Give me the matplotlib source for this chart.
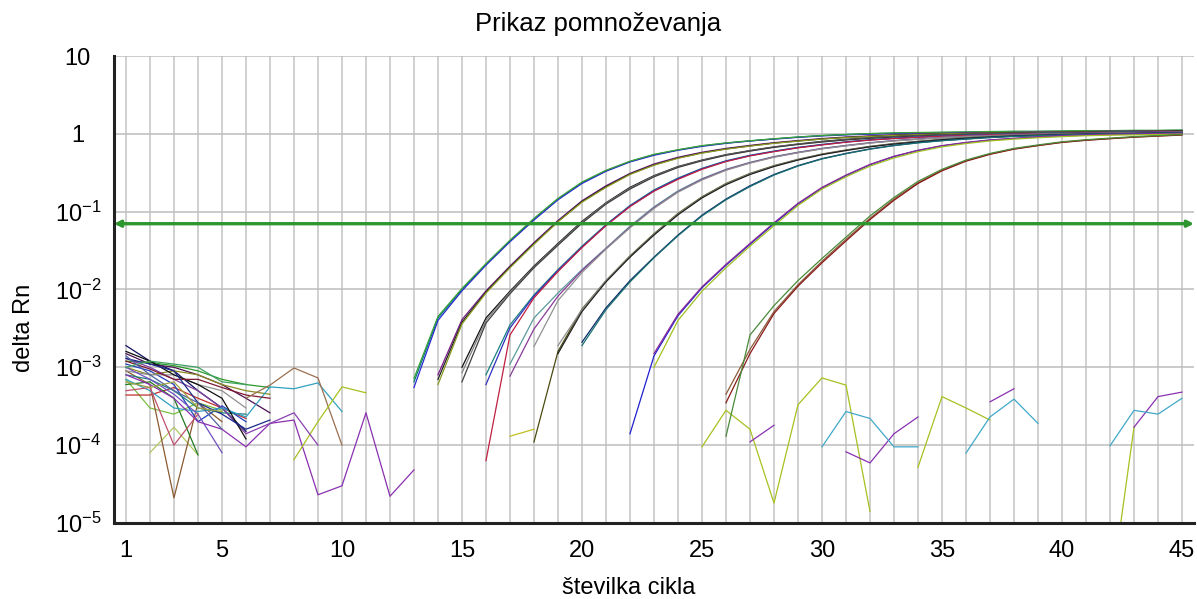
import matplotlib
matplotlib.use("Agg")
import matplotlib.pyplot as plt
import numpy as np

plt.rcParams['font.family'] = ['Liberation Sans', 'DejaVu Sans']
plt.rcParams['mathtext.fontset'] = 'custom'
plt.rcParams['mathtext.rm'] = 'Liberation Sans'
plt.rcParams['mathtext.it'] = 'Liberation Sans:italic'
plt.rcParams['mathtext.bf'] = 'Liberation Sans:bold'

# ---- data ----
title = "Prikaz pomnoževanja"
x_label = "številka cikla"
y_label = "delta Rn"
threshold = 0.07
x_ticks = [1, 5, 10, 15, 20, 25, 30, 35, 40, 45]
y_ticks = [1e-5, 1e-4, 1e-3, 1e-2, 1e-1, 1, 10]
y_tick_labels = [r'$\mathregular{10^{-5}}$', r'$\mathregular{10^{-4}}$', r'$\mathregular{10^{-3}}$',
                 r'$\mathregular{10^{-2}}$', r'$\mathregular{10^{-1}}$', '1', '10']

# amplification curves: first cycle shown, then delta Rn per cycle up to 45
amp_starts = [13, 13, 13, 14, 14, 14, 15, 15, 15, 16, 16, 16, 17, 17, 18,
              18, 19, 19, 20, 20, 22, 23, 23, 26, 26, 26]
amp_values = [
    [6.5e-4, 4.3e-3, 1.0e-2, 2.1e-2, 4.2e-2, 0.080, 0.145, 0.235, 0.335, 0.44, 0.54, 0.62, 0.70, 0.76, 0.81,
     0.86, 0.91, 0.95, 0.98, 1.00, 1.02, 1.03, 1.04, 1.05, 1.06, 1.07, 1.07, 1.08, 1.09, 1.09, 1.10, 1.10, 1.11],
    [5.5e-4, 4.0e-3, 9.6e-3, 2.05e-2, 4.1e-2, 0.078, 0.142, 0.23, 0.33, 0.435, 0.53, 0.615, 0.69, 0.755, 0.81,
     0.855, 0.90, 0.94, 0.97, 0.99, 1.01, 1.02, 1.03, 1.04, 1.05, 1.06, 1.07, 1.07, 1.08, 1.08, 1.09, 1.09, 1.10],
    [7.2e-4, 4.5e-3, 1.03e-2, 2.15e-2, 4.3e-2, 0.082, 0.148, 0.24, 0.34, 0.445, 0.545, 0.625, 0.705, 0.765,
     0.815, 0.865, 0.91, 0.95, 0.98, 1.01, 1.03, 1.04, 1.05, 1.06, 1.07, 1.08, 1.08, 1.09, 1.10, 1.10, 1.11,
     1.11, 1.12],
    [8.0e-4, 4.1e-3, 9.6e-3, 2.0e-2, 4.0e-2, 0.077, 0.138, 0.215, 0.31, 0.41, 0.50, 0.58, 0.65, 0.71, 0.77,
     0.82, 0.87, 0.91, 0.94, 0.97, 0.99, 1.01, 1.02, 1.03, 1.04, 1.05, 1.06, 1.07, 1.08, 1.08, 1.09, 1.10],
    [7.0e-4, 3.8e-3, 9.3e-3, 1.95e-2, 3.9e-2, 0.075, 0.135, 0.21, 0.305, 0.40, 0.49, 0.57, 0.64, 0.70, 0.76,
     0.81, 0.86, 0.90, 0.93, 0.96, 0.98, 1.00, 1.01, 1.02, 1.03, 1.04, 1.05, 1.06, 1.07, 1.07, 1.08, 1.09],
    [6.0e-4, 3.6e-3, 9.0e-3, 1.9e-2, 3.8e-2, 0.074, 0.132, 0.205, 0.30, 0.395, 0.485, 0.565, 0.635, 0.695,
     0.755, 0.805, 0.855, 0.895, 0.925, 0.955, 0.975, 0.995, 1.01, 1.02, 1.03, 1.04, 1.05, 1.06, 1.06, 1.07,
     1.08, 1.08],
    [1.0e-3, 4.3e-3, 9.5e-3, 2.0e-2, 3.9e-2, 0.075, 0.13, 0.205, 0.29, 0.38, 0.46, 0.54, 0.61, 0.68, 0.74,
     0.80, 0.85, 0.89, 0.92, 0.95, 0.97, 0.99, 1.01, 1.02, 1.03, 1.04, 1.05, 1.06, 1.07, 1.07, 1.08],
    [8.5e-4, 4.0e-3, 9.2e-3, 1.95e-2, 3.8e-2, 0.073, 0.128, 0.20, 0.285, 0.375, 0.455, 0.535, 0.605, 0.675,
     0.735, 0.79, 0.84, 0.88, 0.915, 0.945, 0.965, 0.985, 1.0, 1.01, 1.02, 1.03, 1.04, 1.05, 1.06, 1.06, 1.07],
    [6.5e-4, 3.7e-3, 8.8e-3, 1.9e-2, 3.7e-2, 0.071, 0.125, 0.195, 0.28, 0.37, 0.45, 0.53, 0.60, 0.67, 0.73,
     0.785, 0.835, 0.875, 0.91, 0.94, 0.96, 0.98, 0.995, 1.005, 1.015, 1.025, 1.035, 1.045, 1.05, 1.06, 1.065],
    [8.0e-4, 3.5e-3, 8.5e-3, 1.8e-2, 3.6e-2, 0.068, 0.12, 0.19, 0.27, 0.36, 0.45, 0.53, 0.60, 0.67, 0.73,
     0.79, 0.84, 0.88, 0.91, 0.94, 0.96, 0.98, 1.00, 1.01, 1.02, 1.03, 1.04, 1.05, 1.06, 1.07],
    [6.0e-4, 3.2e-3, 8.2e-3, 1.75e-2, 3.5e-2, 0.067, 0.118, 0.186, 0.265, 0.355, 0.445, 0.525, 0.595, 0.665,
     0.725, 0.785, 0.835, 0.875, 0.905, 0.935, 0.955, 0.975, 0.995, 1.005, 1.015, 1.025, 1.035, 1.045, 1.055,
     1.065],
    [6.3e-5, 2.6e-3, 7.8e-3, 1.7e-2, 3.45e-2, 0.066, 0.116, 0.183, 0.26, 0.35, 0.44, 0.52, 0.59, 0.66, 0.72,
     0.78, 0.83, 0.87, 0.90, 0.93, 0.95, 0.97, 0.99, 1.00, 1.01, 1.02, 1.03, 1.04, 1.05, 1.06],
    [1.1e-3, 4.3e-3, 9.0e-3, 1.8e-2, 3.4e-2, 0.065, 0.115, 0.185, 0.265, 0.35, 0.43, 0.51, 0.58, 0.65, 0.71,
     0.77, 0.82, 0.86, 0.90, 0.93, 0.95, 0.97, 0.99, 1.00, 1.01, 1.02, 1.03, 1.04, 1.05],
    [7.7e-4, 3.1e-3, 8.2e-3, 1.75e-2, 3.35e-2, 0.063, 0.112, 0.18, 0.26, 0.345, 0.425, 0.505, 0.575, 0.645,
     0.705, 0.765, 0.815, 0.855, 0.895, 0.925, 0.945, 0.965, 0.985, 0.995, 1.005, 1.015, 1.025, 1.035, 1.045],
    [1.85e-3, 7.2e-3, 1.65e-2, 3.3e-2, 0.062, 0.11, 0.178, 0.255, 0.34, 0.42, 0.50, 0.57, 0.64, 0.70, 0.76,
     0.81, 0.85, 0.89, 0.92, 0.94, 0.96, 0.98, 0.99, 1.00, 1.01, 1.02, 1.03, 1.04],
    [1.1e-4, 1.6e-3, 5.6e-3, 1.3e-2, 2.7e-2, 0.052, 0.095, 0.155, 0.23, 0.31, 0.39, 0.47, 0.55, 0.62, 0.69,
     0.75, 0.80, 0.85, 0.89, 0.92, 0.95, 0.97, 0.99, 1.00, 1.01, 1.02, 1.03, 1.04],
    [1.9e-3, 5.5e-3, 1.3e-2, 2.65e-2, 0.051, 0.093, 0.152, 0.226, 0.305, 0.385, 0.465, 0.545, 0.615, 0.685,
     0.745, 0.795, 0.845, 0.885, 0.915, 0.945, 0.965, 0.985, 0.995, 1.005, 1.015, 1.025, 1.035],
    [1.5e-3, 5.2e-3, 1.25e-2, 2.6e-2, 0.05, 0.091, 0.15, 0.222, 0.30, 0.38, 0.46, 0.54, 0.61, 0.68, 0.74,
     0.79, 0.84, 0.88, 0.91, 0.94, 0.96, 0.98, 0.99, 1.00, 1.01, 1.02, 1.03],
    [2.1e-3, 5.8e-3, 1.3e-2, 2.6e-2, 0.05, 0.09, 0.145, 0.215, 0.30, 0.39, 0.48, 0.56, 0.64, 0.71, 0.77,
     0.82, 0.86, 0.90, 0.93, 0.95, 0.97, 0.99, 1.00, 1.01, 1.02, 1.03],
    [1.9e-3, 5.5e-3, 1.25e-2, 2.55e-2, 0.049, 0.088, 0.142, 0.21, 0.295, 0.385, 0.475, 0.555, 0.635, 0.705,
     0.765, 0.815, 0.855, 0.895, 0.925, 0.945, 0.965, 0.985, 0.995, 1.005, 1.015, 1.025],
    [1.4e-4, 1.4e-3, 4.6e-3, 1.05e-2, 2.05e-2, 3.8e-2, 0.07, 0.125, 0.20, 0.29, 0.40, 0.51, 0.61, 0.70, 0.77,
     0.83, 0.87, 0.91, 0.94, 0.96, 0.98, 0.99, 1.00, 1.01],
    [1.5e-3, 4.8e-3, 1.08e-2, 2.1e-2, 3.9e-2, 0.072, 0.128, 0.205, 0.295, 0.405, 0.515, 0.615, 0.705, 0.775,
     0.835, 0.875, 0.915, 0.945, 0.965, 0.985, 0.995, 1.005, 1.015],
    [1.0e-3, 4.0e-3, 9.5e-3, 1.9e-2, 3.6e-2, 0.066, 0.12, 0.195, 0.28, 0.385, 0.49, 0.59, 0.68, 0.75, 0.81,
     0.855, 0.89, 0.92, 0.945, 0.96, 0.97, 0.98, 0.99],
    [4.5e-4, 1.7e-3, 5.2e-3, 1.15e-2, 2.3e-2, 4.4e-2, 0.082, 0.145, 0.235, 0.34, 0.45, 0.55, 0.64, 0.71, 0.78,
     0.83, 0.87, 0.91, 0.94, 0.97],
    [3.5e-4, 1.5e-3, 4.9e-3, 1.1e-2, 2.2e-2, 4.2e-2, 0.079, 0.14, 0.23, 0.335, 0.445, 0.545, 0.635, 0.705,
     0.775, 0.825, 0.865, 0.905, 0.935, 0.965],
    [1.3e-4, 2.6e-3, 6.2e-3, 1.3e-2, 2.5e-2, 4.7e-2, 0.088, 0.152, 0.245, 0.35, 0.46, 0.56, 0.65, 0.72, 0.79,
     0.84, 0.88, 0.92, 0.95, 0.98],
]
amp_colors = ['#007b7b', '#2a2ad0', '#3aa03a', '#7a1a8a', '#202020', '#8a9a20',
              '#101010', '#808080', '#404040', '#1a8080', '#3030c0', '#c02040',
              '#5a9a9a', '#8a3a9a', '#909090', '#4a4a10', '#909090', '#202020',
              '#0a2a6a', '#1a7070', '#2020d0', '#8a2a9a', '#a0c020',
              '#8a5a3a', '#8a1a1a', '#4a8a3a']

# background noise segments (negative values are not drawn on the log axis)
noise_starts = [1, 1, 1, 1, 2, 1, 1, 1, 1, 1, 1, 1, 1, 1, 1, 1, 1, 1, 6, 8, 6, 1, 1, 1, 1, 1,
                17, 25, 34, 42, 27, 31, 37, 43, 30, 36, 42]
noise_values = [
    [1.9e-3, 1.2e-3, 9.0e-4, 5.0e-4, 3.0e-4, 1.5e-4],
    [1.5e-3, 1.1e-3, 1.0e-3, 8.0e-4, 6.0e-4, 4.0e-4, 2.6e-4],
    [1.2e-3, 1.15e-3, 1.05e-3, 9.0e-4, 7.0e-4, 6.0e-4, 5.5e-4],
    [7.0e-4, 3.0e-4, 2.5e-4, 3.5e-4, 2.8e-4],
    [8.0e-5, 1.7e-4, 7.5e-5],
    [9.0e-4, 6.0e-4, 2.1e-5, 3.5e-4, 2.0e-4],
    [4.4e-4, 4.4e-4, 5.5e-4, 4.0e-4, 3.0e-4, 2.2e-4],
    [1.1e-3, 9.0e-4, 6.0e-4, 2.0e-4, 3.2e-4, 2.0e-4],
    [8.0e-4, 7.0e-4, 5.0e-4, 3.0e-4, 2.6e-4, 2.5e-4],
    [1.0e-3, 8.0e-4, 9.0e-4, 8.0e-4, 6.0e-4, 5.0e-4, 4.5e-4],
    [1.3e-3, 1.0e-3, 7.0e-4, 5.0e-4, 3.0e-4, 1.4e-4],
    [9.0e-4, 8.0e-4, 8.0e-4, 6.0e-4, 5.0e-4, 3.0e-4],
    [6.0e-4, 6.5e-4, 4.0e-4, 7.5e-5],
    [7.0e-4, 5.0e-4, 3.0e-4, 2.7e-4, 3.0e-4, 2.3e-4, 5.6e-4, 5.3e-4, 6.3e-4, 2.7e-4],
    [1.6e-3, 1.2e-3, 8.0e-4, 6.0e-4, 4.0e-4, 1.2e-4],
    [1.0e-3, 7.0e-4, 4.5e-4, 2.5e-4, 8.0e-5],
    [1.2e-3, 9.5e-4, 7.0e-4, 7.0e-4, 5.5e-4, 4.4e-4, 4.0e-4],
    [8.0e-4, 6.0e-4, 4.0e-4, 2.0e-4, 1.6e-4, 9.5e-5, 1.9e-4, 2.1e-4, 2.3e-5, 3.0e-5, 2.6e-4, 2.2e-5, 4.8e-5],
    [4.0e-4, 5.9e-4, 9.8e-4, 7.3e-4, 1.0e-4],
    [6.5e-5, 2.0e-4, 5.6e-4, 4.7e-4],
    [1.4e-4, 1.9e-4, 2.6e-4, 1.0e-4],
    [1.3e-3, 1.1e-3, 9.0e-4, 3.5e-4, 2.5e-4, 1.6e-4, 2.1e-4],
    [1.0e-3, 1.2e-3, 1.1e-3, 1.0e-3, 6.5e-4, 6.0e-4],
    [5.0e-4, 5.5e-4, 1.0e-4, 2.5e-4],
    [1.4e-3, 8.0e-4, 5.0e-4, 3.5e-4, 1.6e-4],
    [6.5e-4, 5.5e-4, 6.5e-4, 3.0e-4, 2.7e-4],
    [1.3e-4, 1.6e-4],
    [9.5e-5, 2.8e-4, 1.6e-4, 1.8e-5, 3.3e-4, 7.3e-4, 5.9e-4, 1.4e-5],
    [5.2e-5, 4.2e-4, 3.0e-4, 2.1e-4],
    [1.0e-6, 1.7e-4],
    [1.1e-4, 1.8e-4],
    [8.2e-5, 5.9e-5, 1.4e-4, 2.3e-4],
    [3.6e-4, 5.3e-4],
    [1.7e-4, 4.2e-4, 4.8e-4],
    [9.5e-5, 2.7e-4, 2.2e-4, 9.5e-5, 9.5e-5],
    [7.9e-5, 2.3e-4, 3.9e-4, 1.9e-4],
    [9.8e-5, 2.8e-4, 2.5e-4, 4.0e-4],
]
noise_colors = ['#101060', '#4a1050', '#2a9a2a', '#7ac040', '#b0c860', '#8a5a30', '#c03030', '#2040c0',
                '#208080', '#8a8a20', '#8040a0', '#909090', '#207a20', '#30a0c0', '#101010', '#7050c0',
                '#801830', '#8a30b0', '#9a7050', '#a8c020', '#8a40b0', '#1a2a8a', '#40a060', '#c05070',
                '#5060a0', '#a0a040',
                '#c0c020', '#a8c020', '#a8c020', '#a8c020', '#8a30b0', '#8a30b0', '#8a30b0', '#8a30b0',
                '#40a8c8', '#40a8c8', '#40a8c8']

fig = plt.figure(figsize=(11.97, 5.99), dpi=100)
ax = fig.add_axes([0.0952, 0.127, 0.9023, 0.7795])

for start, vals, col in zip(noise_starts, noise_values, noise_colors):
    cyc = np.arange(start, start + len(vals))
    ax.plot(cyc, vals, color=col, lw=0.9)

for start, vals, col in zip(amp_starts, amp_values, amp_colors):
    cyc = np.arange(start, start + len(vals))
    ax.plot(cyc, vals, color=col, lw=0.9)

ax.set_yscale('log')
ax.set_xlim(0.5, 45.5)
ax.set_ylim(1e-5, 10)

# grid: every cycle vertically, every decade horizontally
for c in range(1, 46):
    ax.axvline(c, color='#c4c4c4', lw=1.1, zorder=0)
for yv in y_ticks:
    ax.axhline(yv, color='#bdbdbd', lw=1.1, zorder=0)

# threshold line with arrows on both ends
ax.annotate('', xy=(1.0, threshold), xytext=(0.0, threshold),
            xycoords=('axes fraction', 'data'), textcoords=('axes fraction', 'data'),
            arrowprops=dict(arrowstyle='<->', color='#2e962e', lw=2.4,
                            mutation_scale=9, shrinkA=0, shrinkB=0),
            zorder=5)

ax.set_xticks(x_ticks)
ax.set_xticklabels([str(t) for t in x_ticks])
ax.set_yticks(y_ticks)
ax.set_yticklabels(y_tick_labels)
ax.minorticks_off()
ax.tick_params(axis='x', length=0, pad=12, labelsize=17)
ax.tick_params(axis='y', length=0, pad=26, labelsize=17)
for lab in ax.get_yticklabels():
    lab.set_horizontalalignment('center')

for s in ['top', 'right']:
    ax.spines[s].set_visible(False)
for s in ['left', 'bottom']:
    ax.spines[s].set_linewidth(2.2)
    ax.spines[s].set_color('#222222')
    ax.spines[s].set_zorder(6)

fig.text(0.5, 0.96, title, ha='center', va='center', fontsize=18.5)
fig.text(0.525, 0.018, x_label, ha='center', va='center', fontsize=17)
fig.text(0.02, 0.453, y_label, ha='center', va='center', rotation=90, fontsize=17)

fig.savefig('out.png', dpi=100)
